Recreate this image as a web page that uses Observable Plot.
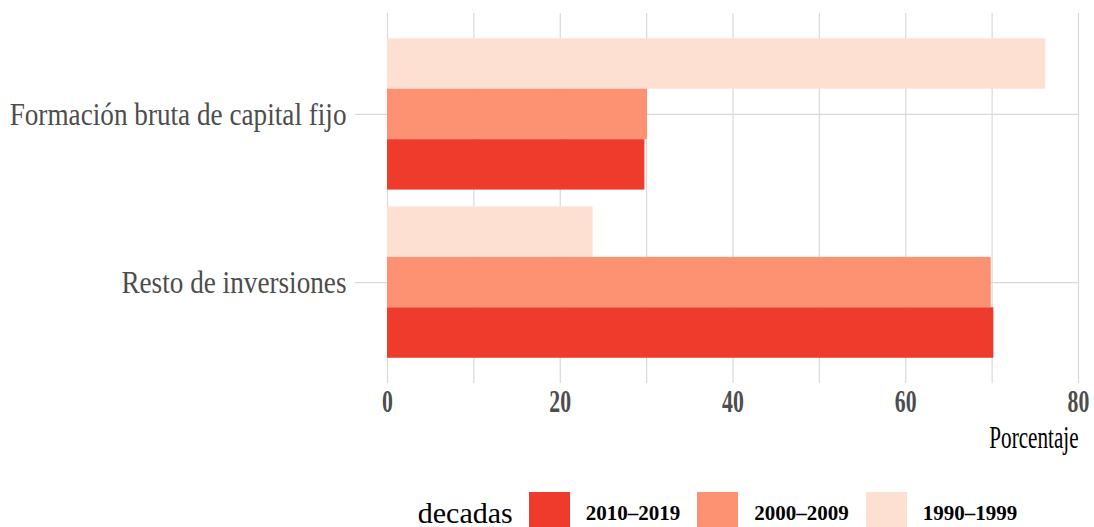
<!DOCTYPE html>
<html><head><meta charset="utf-8">
<script src="https://cdn.jsdelivr.net/npm/d3@7"></script>
<script src="https://cdn.jsdelivr.net/npm/@observablehq/plot@0.6"></script>
<style>
body{margin:0;background:#fff;font-family:"Liberation Serif",serif;}
#chart svg{display:block;}
#legend{display:flex;align-items:center;margin-left:356px;width:723px;justify-content:center;margin-top:22px;height:42px;color:#000;}
#legend .title{font-size:30px;margin-right:16px;}
#legend .sw{width:41px;height:42px;margin-right:16px;}
#legend .lab{font-size:21px;font-weight:bold;margin-right:17px;}
#legend .lab:last-child{margin-right:0;}
</style></head><body>
<div id="chart"></div>
<div id="legend"></div>
<script>
const categories = ["Formación bruta de capital fijo", "Resto de inversiones"];
const decades = ["1990–1999", "2000–2009", "2010–2019"];
const fbcfValues = [76.2, 30.1, 29.8];
const restoValues = [23.8, 69.9, 70.2];
const xTicks = [0, 20, 40, 60, 80];
const gridTicks = [0, 10, 20, 30, 40, 50, 60, 70, 80];
const decadeColors = ["#fee0d2", "#fc9272", "#ef3b2c"];
const legendOrder = ["2010–2019", "2000–2009", "1990–1999"];
const legendTitle = "decadas";
const xLabel = "Porcentaje";

// dodged bars: category i sits at position i+1; each decade takes a third of a 0.9-wide group
const groupWidth = 0.9;
const seriesByCategory = [fbcfValues, restoValues];
const catPos = categories.map((c, i) => i + 1);
const data = categories.flatMap((c, i) => decades.map((d, j) => {
  const w = groupWidth / decades.length;
  const start = catPos[i] - groupWidth / 2 + j * w;
  return {category: c, decade: d, value: seriesByCategory[i][j], y1: start, y2: start + w};
}));

const chart = Plot.plot({
  width: 1094, height: 470,
  marginLeft: 387, marginRight: 16, marginTop: 13, marginBottom: 87,
  style: {fontFamily: "Liberation Serif", background: "#fff"},
  x: {domain: [0, 80]},
  y: {domain: [categories.length + 0.6, 0.4]},
  color: {domain: decades, range: decadeColors},
  marks: [
    Plot.ruleX(gridTicks, {x: d => d, stroke: "#d9d9d9", strokeWidth: 1.2}),
    Plot.ruleY(catPos, {y: d => d, stroke: "#d9d9d9", strokeWidth: 1.2}),
    Plot.axisY({ticks: catPos, tickFormat: d => categories[d - 1], tickSize: 32, tickPadding: 9, stroke: "#d9d9d9", strokeWidth: 1.2, fill: "#4d4d4d", fontSize: 32, label: null}),
    Plot.rect(data, {x1: d => 0, x2: "value", y1: "y1", y2: "y2", fill: "decade"}),
    Plot.axisX({ticks: xTicks, tickSize: 0, tickPadding: 6, fontSize: 32, fontWeight: "bold", fill: "#4d4d4d", label: null}),
    Plot.text([xLabel], {frameAnchor: "bottom-right", textAnchor: "end", dy: 54, lineAnchor: "middle", fontSize: 32, fill: "#000"})
  ]
});
document.getElementById("chart").appendChild(chart);

// horizontal condensing of text (glyph compression) to mimic the condensed serif face
const svg = chart.tagName.toLowerCase() === "svg" ? chart : chart.querySelector("svg");
svg.querySelectorAll("text").forEach(t => {
  const s = t.textContent;
  let k = 1;
  if (categories.includes(s)) k = 0.85;
  else if (xTicks.map(String).includes(s)) k = 0.68;
  else if (s === xLabel) k = 0.66;
  if (k === 1) return;
  const len = t.getComputedTextLength();
  t.setAttribute("textLength", (len * k).toFixed(2));
  t.setAttribute("lengthAdjust", "spacingAndGlyphs");
});

const legend = document.getElementById("legend");
const title = document.createElement("span");
title.className = "title"; title.textContent = legendTitle;
legend.appendChild(title);
legendOrder.forEach(d => {
  const sw = document.createElement("div");
  sw.className = "sw"; sw.style.background = decadeColors[decades.indexOf(d)];
  legend.appendChild(sw);
  const lab = document.createElement("span");
  lab.className = "lab"; lab.textContent = d;
  legend.appendChild(lab);
});
</script></body></html>
